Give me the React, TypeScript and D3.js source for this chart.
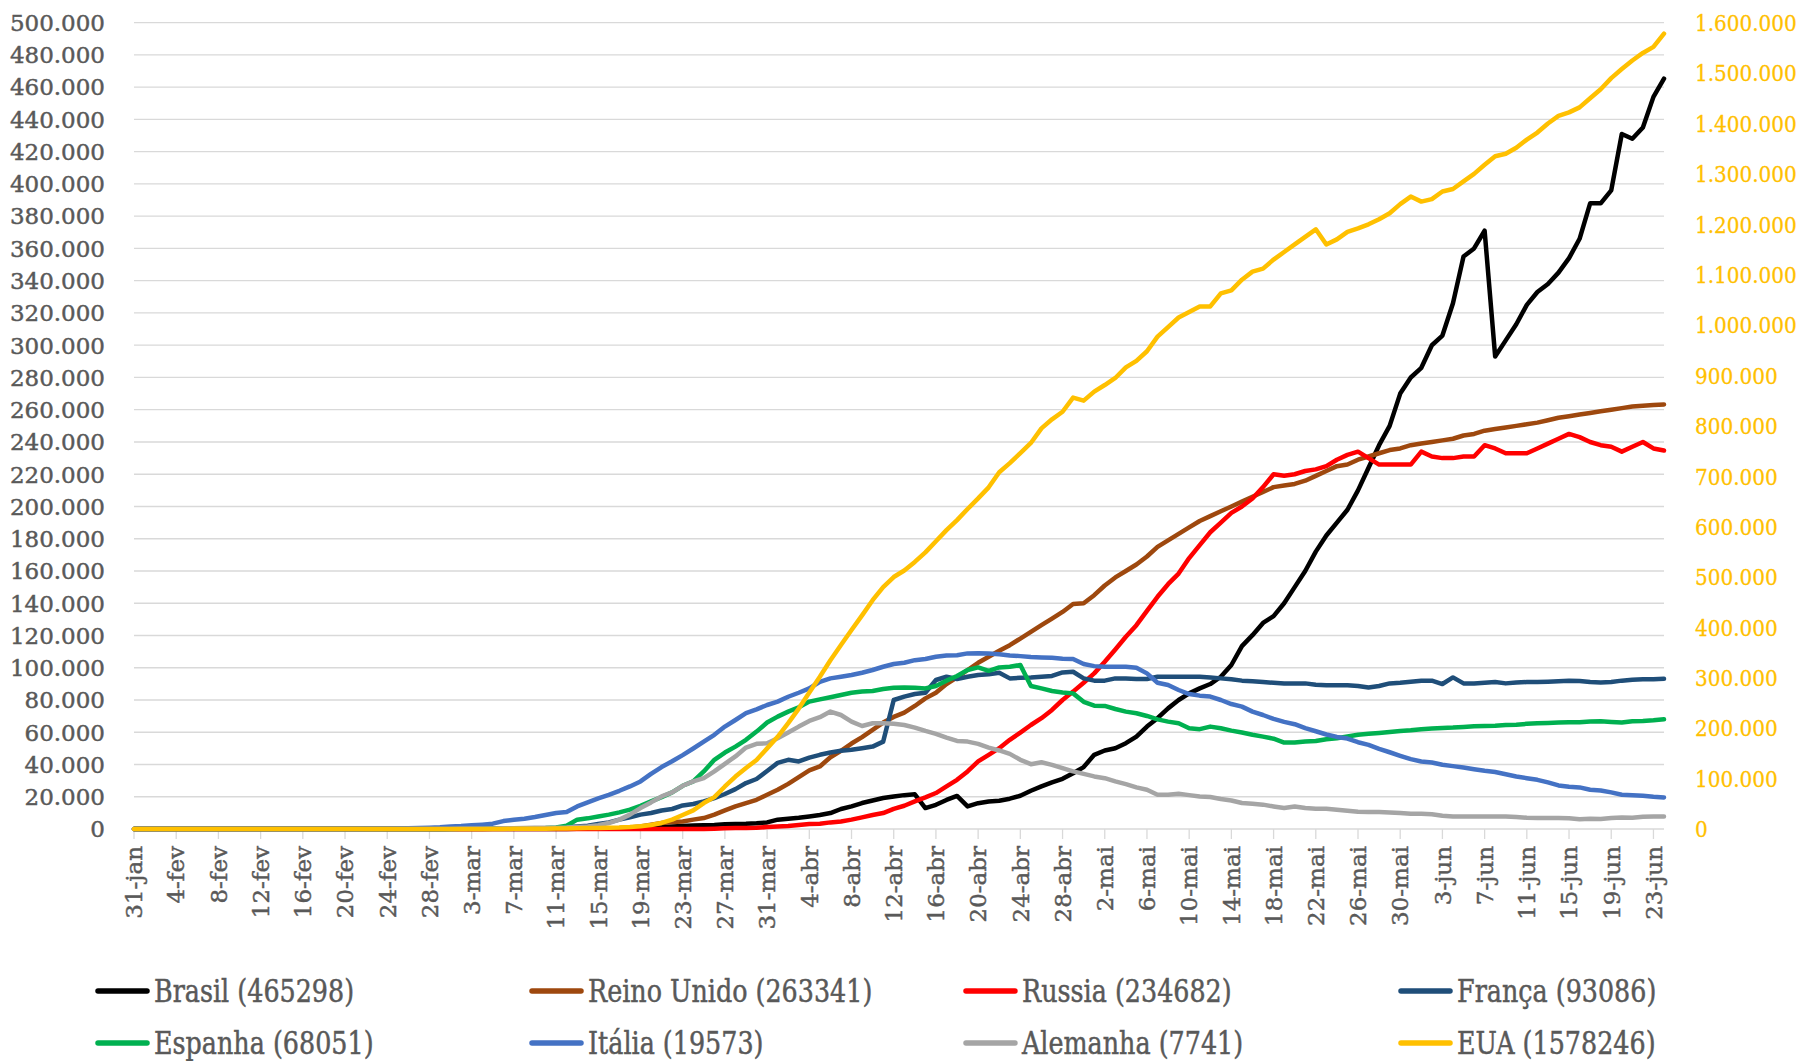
import React from "react";
import * as d3 from "d3";

// casos ativos, em milhares (31-jan .. 24-jun)
const brasil = [
  0,
  0, 0, 0, 0, 0, 0, 0, 0, 0, 0, 0, 0, 0, 0, 0, 0, 0, 0, 0, 0, 0, 0, 0, 0, 0, 0, 0, 0, 0,
  0, 0, 0, 0, 0, 0, 0, 0, 0, 0, 0.05, 0.07, 0.1, 0.15, 0.2, 0.25, 0.3, 0.6, 0.8, 1.0, 1.2, 1.6, 1.9, 2.1, 2.3, 2.5, 2.9, 3.1, 3.2, 3.5, 4.1,
  5.8, 6.4, 7.0, 7.8, 8.7, 9.9, 12.4, 14.0, 16.1, 17.7, 19.2, 20.2, 21.0, 21.5, 13.0, 15.0, 18.0, 20.5, 14.0, 16.0, 17.0, 17.5, 18.8, 20.6, 23.7, 26.4, 28.9, 31.1, 34.6, 38.4,
  46.0, 48.7, 50.1, 53.2, 57.3, 63.5, 68.7, 74.8, 80.0, 84.1, 87.2, 89.9, 94.4, 101.7, 113.4, 120.2, 127.8, 132, 140, 150, 160, 172, 182, 190, 198, 210, 224, 238, 250, 270, 280,
  286, 300, 306, 326, 355, 360, 371, 293, 303, 313, 325, 333, 338, 345, 354, 366, 388, 388, 396, 431, 428, 435, 454, 465.3,
];
const reinoUnido = [
  0,
  0, 0, 0, 0, 0, 0, 0, 0, 0, 0, 0, 0, 0, 0, 0, 0, 0, 0, 0, 0, 0, 0, 0, 0, 0, 0, 0, 0, 0,
  0.02, 0.03, 0.04, 0.07, 0.1, 0.12, 0.15, 0.2, 0.25, 0.3, 0.3, 0.35, 0.35, 0.4, 0.4, 0.5, 0.6, 1.0, 1.6, 2.7, 3.7, 4.3, 4.7, 5.8, 6.8, 8.9, 11.5, 14.0, 16.1, 18.1, 21.2,
  24.3, 28.0, 32.2, 36.3, 38.8, 44.5, 48.5, 53.0, 57.0, 61.5, 66.0, 69.5, 72.2, 76.3, 81.0, 84.5, 89.9, 94.0, 98.6, 103.1, 106.8, 110.5, 114.0, 118.1, 122.3, 126.4, 130.5, 134.6, 139.5, 140.0,
  145, 151, 156, 160, 164, 169, 175, 179, 183, 187, 191, 194, 197, 200, 203, 206, 209, 212, 213, 214, 216, 219, 222, 225, 226, 229, 231, 233, 235, 236, 238,
  239, 240, 241, 242, 244, 245, 247, 248, 249, 250, 251, 252, 253.5, 255, 256, 257, 258, 259, 260, 261, 262, 262.5, 263, 263.3,
];
const russia = [
  0,
  0, 0, 0, 0, 0, 0, 0, 0, 0, 0, 0, 0, 0, 0, 0, 0, 0, 0, 0, 0, 0, 0, 0, 0, 0, 0, 0, 0, 0,
  0, 0, 0, 0, 0, 0, 0, 0, 0, 0, 0, 0, 0, 0, 0, 0, 0, 0, 0, 0, 0, 0, 0, 0, 0, 0.2, 0.4, 0.6, 0.6, 0.8, 1.2,
  1.6, 1.9, 2.5, 3.1, 3.3, 4.1, 4.7, 5.8, 7.2, 8.7, 9.9, 12.5, 14.4, 17.1, 19.6, 22.3, 26.4, 30.5, 35.7, 41.9, 46.0, 50.1, 55.3, 59.8, 64.5, 68.7, 73.8, 80.0, 85.2, 90.7,
  96.5, 103.7, 111.3, 119.2, 126.4, 135.3, 144.0, 151.8, 158.4, 168, 176, 184, 190, 196, 200, 205, 212, 220, 219, 220, 222, 223, 225, 229, 232, 234, 230, 226, 226, 226, 226,
  234, 231, 230, 230, 231, 231, 238, 236, 233, 233, 233, 236, 239, 242, 245, 243, 240, 238, 237, 234, 237, 240, 236, 234.7,
];
const franca = [
  0,
  0, 0, 0, 0, 0, 0, 0, 0, 0, 0, 0, 0, 0, 0, 0, 0, 0, 0, 0, 0, 0, 0, 0, 0, 0, 0, 0, 0, 0,
  0.1, 0.1, 0.15, 0.2, 0.25, 0.3, 0.35, 0.4, 0.45, 0.5, 0.6, 1.2, 1.6, 2.0, 3.1, 4.1, 5.8, 7.2, 8.9, 9.9, 11.5, 12.4, 14.6, 15.5, 17.1, 19.2, 21.7, 24.7, 28.5, 31.0, 36.0,
  41.0, 42.9, 41.9, 44.3, 46.0, 47.4, 48.5, 49.1, 50.1, 51.1, 54.2, 80.0, 82.1, 83.7, 84.5, 92.4, 94.4, 93.0, 94.4, 95.5, 95.9, 96.9, 93.4, 93.8, 94.0, 94.4, 94.9, 97.1, 97.5, 93.4,
  92.0, 92.0, 93.4, 93.4, 93.0, 93.0, 94.4, 94.4, 94.4, 94.4, 94.4, 94.0, 93.4, 92.8, 92.0, 91.6, 91.1, 90.7, 90.3, 90.3, 90.3, 89.5, 89.1, 89.1, 89.1, 88.7, 87.8, 88.7, 90.3, 90.7, 91.3,
  92.0, 92.0, 89.9, 94.0, 90.3, 90.3, 90.7, 91.1, 90.3, 90.9, 91.1, 91.1, 91.3, 91.6, 92.0, 91.8, 91.1, 90.9, 91.1, 92.0, 92.6, 92.8, 92.8, 93.1,
];
const espanha = [
  0,
  0, 0, 0, 0, 0, 0, 0, 0, 0, 0, 0, 0, 0, 0, 0, 0, 0, 0, 0, 0, 0, 0, 0, 0, 0, 0, 0, 0, 0,
  0.05, 0.08, 0.1, 0.15, 0.2, 0.25, 0.3, 0.4, 0.5, 0.6, 1.0, 2.0, 5.8, 6.6, 7.8, 8.9, 10.3, 12.0, 14.4, 17.1, 19.8, 22.7, 26.8, 29.5, 35.7, 42.9, 47.4, 51.1, 55.3, 60.4, 66.0,
  69.7, 72.8, 75.5, 79.0, 80.4, 81.7, 83.1, 84.5, 85.2, 85.6, 86.8, 87.6, 87.8, 87.6, 87.2, 88.7, 92.0, 94.9, 98.6, 100.2, 98.1, 100.2, 100.6, 101.7, 88.7, 87.2, 85.6, 84.7, 84.1, 78.9,
  76.5, 76.3, 74.4, 72.8, 71.8, 70.1, 68.0, 66.6, 65.6, 62.5, 61.9, 63.5, 62.5, 61.0, 59.8, 58.4, 57.3, 56.0, 53.6, 53.6, 54.2, 54.6, 55.7, 56.3, 57.3, 58.4, 59.0, 59.6, 60.2, 60.8, 61.2,
  61.9, 62.3, 62.7, 62.9, 63.3, 63.7, 63.9, 64.1, 64.5, 64.7, 65.2, 65.6, 65.8, 66.0, 66.2, 66.2, 66.6, 66.8, 66.4, 66.0, 66.8, 67.0, 67.4, 68.05,
];
const italia = [
  0,
  0, 0, 0, 0, 0, 0, 0, 0, 0, 0, 0, 0, 0, 0, 0, 0, 0, 0, 0, 0, 0.02, 0.08, 0.15, 0.22, 0.31, 0.39, 0.59, 0.82, 1.05,
  1.58, 1.84, 2.26, 2.71, 3.3, 4.9, 5.8, 6.4, 7.4, 8.7, 9.9, 10.5, 14.0, 16.5, 19.0, 21.2, 23.7, 26.4, 29.5, 34.2, 38.4, 42.0, 45.8, 49.9, 54.2, 58.4, 63.5, 67.6, 71.8, 74.2, 76.9,
  79.0, 82.0, 84.5, 87.2, 91.3, 93.4, 94.4, 95.5, 96.9, 98.6, 100.6, 102.3, 103.1, 104.7, 105.4, 106.8, 107.6, 107.8, 108.9, 109.0, 108.9, 108.3, 107.6, 107.2, 106.6, 106.4, 106.2, 105.6, 105.4, 102.3,
  101.0, 100.6, 100.6, 100.6, 100.0, 96.5, 90.7, 89.3, 86.2, 83.7, 82.7, 82.1, 80.0, 77.5, 75.9, 72.8, 70.7, 68.3, 66.4, 65.0, 62.5, 60.6, 58.6, 57.1, 56.1, 53.8, 52.2, 49.7, 47.6, 45.4, 43.3,
  41.9, 41.2, 39.8, 39.0, 38.1, 37.1, 36.1, 35.3, 34.0, 32.6, 31.5, 30.5, 28.9, 27.0, 26.2, 25.8, 24.3, 23.9, 22.7, 21.2, 21.0, 20.6, 20.0, 19.57,
];
const alemanha = [
  0,
  0, 0, 0, 0, 0, 0, 0, 0, 0, 0, 0, 0, 0, 0, 0, 0, 0, 0, 0, 0, 0, 0, 0, 0, 0, 0, 0, 0, 0,
  0.05, 0.1, 0.15, 0.2, 0.3, 0.4, 0.5, 0.6, 0.7, 0.8, 0.8, 0.9, 1.2, 1.6, 2.3, 3.7, 5.8, 8.9, 13.0, 16.5, 20.2, 22.7, 26.8, 29.5, 31.5, 35.7, 40.4, 45.0, 50.5, 52.8, 53.2,
  56.3, 59.8, 63.5, 67.0, 69.3, 72.8, 70.7, 66.6, 63.9, 65.6, 65.6, 65.3, 64.5, 62.9, 60.8, 59.0, 56.7, 54.6, 54.2, 52.8, 50.5, 48.7, 46.6, 42.9, 40.2, 41.4, 39.8, 37.7, 35.7, 34.2,
  32.6, 31.5, 29.5, 27.8, 25.8, 24.3, 21.2, 21.2, 21.9, 21.0, 20.2, 19.8, 18.6, 17.7, 16.1, 15.7, 15.1, 14.0, 13.0, 14.0, 13.0, 12.6, 12.6, 12.0, 11.3, 10.7, 10.5, 10.5, 10.3, 9.9, 9.5,
  9.5, 9.1, 8.2, 7.8, 7.8, 7.8, 7.8, 7.8, 7.8, 7.4, 7.0, 6.8, 6.8, 6.8, 6.6, 6.0, 6.4, 6.2, 6.8, 7.2, 7.0, 7.6, 7.8, 7.74,
];
// eixo secundario
const eua = [
  0,
  0, 0, 0, 0, 0, 0, 0, 0, 0, 0, 0, 0, 0, 0, 0, 0, 0, 0, 0, 0, 0, 0, 0, 0, 0, 0, 0, 0, 0,
  0.05, 0.06, 0.08, 0.1, 0.15, 0.2, 0.3, 0.4, 0.5, 0.6, 0.9, 1.2, 1.5, 1.8, 2.0, 2.5, 3.0, 4.0, 5.5, 8.0, 12.0, 18.5, 27.7, 36.9, 51.5, 63.3, 84.4, 104, 121, 137, 160,
  183, 210, 239, 271, 302, 335, 365, 395, 424, 454, 480, 500, 513, 530, 549, 571, 593, 613, 635, 656, 678, 708, 726, 746, 766, 795, 813, 828, 856, 850,
  868, 881, 895, 916, 929, 948, 977, 996, 1015, 1026, 1037, 1037, 1063, 1069, 1090, 1106, 1112, 1130, 1145, 1160, 1175, 1190, 1160, 1170, 1185, 1192, 1200, 1210, 1222, 1240, 1255,
  1245, 1250, 1265, 1270, 1285, 1300, 1318, 1335, 1340, 1352, 1368, 1382, 1400, 1415, 1422, 1432, 1450, 1468, 1490, 1508, 1525, 1540, 1552, 1578.2,
];

const tickLabels = [
  "31-jan", "4-fev", "8-fev", "12-fev", "16-fev", "20-fev", "24-fev", "28-fev",
  "3-mar", "7-mar", "11-mar", "15-mar", "19-mar", "23-mar", "27-mar", "31-mar",
  "4-abr", "8-abr", "12-abr", "16-abr", "20-abr", "24-abr", "28-abr",
  "2-mai", "6-mai", "10-mai", "14-mai", "18-mai", "22-mai", "26-mai", "30-mai",
  "3-jun", "7-jun", "11-jun", "15-jun", "19-jun", "23-jun",
];
const names = ["Brasil", "Reino Unido", "Russia", "França", "Espanha", "Itália", "Alemanha", "EUA"];
const totals = [465298, 263341, 234682, 93086, 68051, 19573, 7741, 1578246];
const colors = ["#000000", "#9E480E", "#FF0000", "#1F4E79", "#00B050", "#4472C4", "#A5A5A5", "#FFC000"];
const values = [brasil, reinoUnido, russia, franca, espanha, italia, alemanha, eua];

const fmt = d3.formatLocale({ decimal: ",", thousands: ".", grouping: [3], currency: ["", ""] }).format(",");
const FONT = "'DejaVu Serif', serif";

export default function App() {
  const width = 1812;
  const height = 1061;
  const left = 134, right = 1664, top = 22.7, bottom = 829;

  const x = d3.scaleLinear().domain([0, brasil.length - 1]).range([left, right]);
  const yL = d3.scaleLinear().domain([0, 500]).range([bottom, top]);
  const yR = d3.scaleLinear().domain([0, 1600]).range([bottom, top]);

  const leftTicks = d3.range(0, 501, 20);
  const rightTicks = d3.range(0, 1601, 100);

  const lineL = d3.line<number>().x((_, i) => x(i)).y((d) => yL(d));
  const lineR = d3.line<number>().x((_, i) => x(i)).y((d) => yR(d));

  const legendCols = [98, 532, 966, 1401];
  const legendRows = [991, 1043];

  return (
    <svg
      width={width}
      height={height}
      style={{ position: "absolute", left: 0, top: 0, background: "#fff" }}
    >
      {/* grade */}
      <g>
        {leftTicks.map((t) => (
          <line key={t} x1={left} x2={right} y1={yL(t)} y2={yL(t)} stroke="#D9D9D9" strokeWidth={1.3} />
        ))}
        {tickLabels.map((_, k) => (
          <line key={k} x1={x(k * 4)} x2={x(k * 4)} y1={bottom} y2={bottom + 10} stroke="#D9D9D9" strokeWidth={1.3} />
        ))}
      </g>

      {/* eixo esquerdo */}
      <g fontFamily={FONT} fontSize={23} fill="#595959" stroke="#595959" strokeWidth={0.45} textAnchor="end">
        {leftTicks.map((t) => (
          <text key={t} x={105} y={yL(t)} dy="0.36em">
            {fmt(t * 1000)}
          </text>
        ))}
      </g>

      {/* eixo direito */}
      <g fontFamily={FONT} fontSize={23} fill="#FFC000" stroke="#FFC000" strokeWidth={0.3} textAnchor="start">
        {rightTicks.map((t) => (
          <text key={t} transform={`translate(1695,${yR(t)}) scale(0.87,1)`} dy="0.36em">
            {fmt(t * 1000)}
          </text>
        ))}
      </g>

      {/* eixo x */}
      <g fontFamily={FONT} fontSize={23} fill="#595959" stroke="#595959" strokeWidth={0.45} textAnchor="end">
        {tickLabels.map((lab, k) => (
          <text key={lab} transform={`translate(${x(k * 4)},${bottom + 17}) rotate(-90)`} dy="0.36em">
            {lab}
          </text>
        ))}
      </g>

      {/* series */}
      <g fill="none" strokeWidth={4.5} strokeLinejoin="round" strokeLinecap="round">
        {values.map((v, s) => (
          <path key={names[s]} d={(s === 7 ? lineR(v) : lineL(v)) || ""} stroke={colors[s]} />
        ))}
      </g>

      {/* legenda */}
      <g fontFamily={FONT} fontSize={31} fill="#595959" stroke="#595959" strokeWidth={0.5}>
        {names.map((n, s) => {
          const cx = legendCols[s % 4];
          const cy = legendRows[Math.floor(s / 4)];
          return (
            <g key={n}>
              <line x1={cx} x2={cx + 49} y1={cy} y2={cy} stroke={colors[s]} strokeWidth={5.5} strokeLinecap="round" />
              <text transform={`translate(${cx + 56},${cy}) scale(0.82,1)`} dy="0.36em">
                {`${n} (${totals[s]})`}
              </text>
            </g>
          );
        })}
      </g>
    </svg>
  );
}
